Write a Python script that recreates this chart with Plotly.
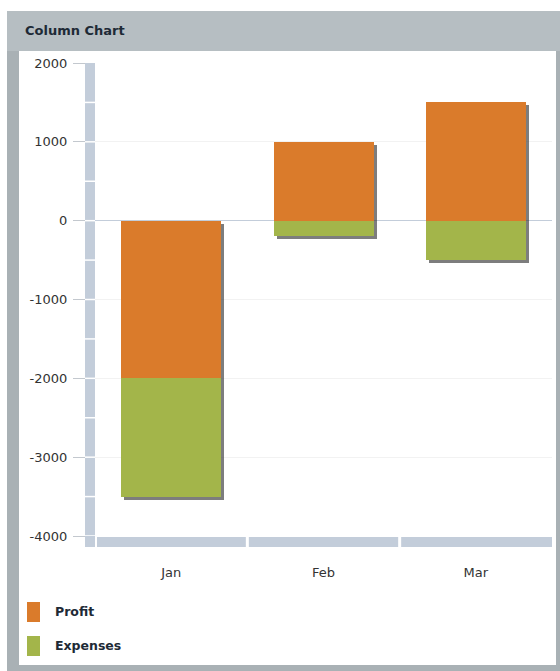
import plotly.graph_objects as go

# ---- data ----
months = ["Jan", "Feb", "Mar"]
series_names = ["Profit", "Expenses"]
profit = [-2000, 1000, 1500]
expenses = [-1500, -200, -500]
y_ticks = [2000, 1000, 0, -1000, -2000, -3000, -4000]

# ---- style ----
ORANGE = "#DA7B2B"
GREEN = "#A3B54A"
BAND = "#C3CDDA"
W, H = 560, 671
L, R, T, B = 95, 8, 63, 135
PW, PH = W - L - R, H - T - B
Y_MIN, Y_MAX = -4000, 2000
FONT = "DejaVu Sans"


def px_x(px):
    return (px - L) / PW


def px_y(py):
    return (H - B - py) / PH


cat_px = PW / len(months)
bar_w = 100 / cat_px
dx = 3 / cat_px
dy = 3 * (Y_MAX - Y_MIN) / PH

exp_base = [min(p, 0) if e < 0 else max(p, 0) for p, e in zip(profit, expenses)]
tops = [max(p, 0) + max(e, 0) for p, e in zip(profit, expenses)]
bottoms = [min(p, 0) + min(e, 0) for p, e in zip(profit, expenses)]

fig = go.Figure()
# shadow
fig.add_trace(go.Bar(
    x=months, y=[t - b for t, b in zip(tops, bottoms)],
    base=[b - dy for b in bottoms],
    width=bar_w, offset=-bar_w / 2 + dx,
    marker=dict(color="rgba(55,55,55,0.65)", line=dict(width=0)),
    showlegend=False, hoverinfo="skip"))
fig.add_trace(go.Bar(
    x=months, y=profit, base=[0] * len(months), name=series_names[0],
    width=bar_w, offset=-bar_w / 2,
    marker=dict(color=ORANGE, line=dict(width=0)), showlegend=False))
fig.add_trace(go.Bar(
    x=months, y=expenses, base=exp_base, name=series_names[1],
    width=bar_w, offset=-bar_w / 2,
    marker=dict(color=GREEN, line=dict(width=0)), showlegend=False))

shapes = []
# panel
shapes.append(dict(type="rect", xref="paper", yref="paper", layer="below",
                   x0=px_x(7), x1=px_x(560), y0=px_y(11), y1=px_y(671),
                   fillcolor="#A9B1B5", line=dict(width=0)))
shapes.append(dict(type="rect", xref="paper", yref="paper", layer="below",
                   x0=px_x(7), x1=px_x(560), y0=px_y(11), y1=px_y(51),
                   fillcolor="#B6BEC2", line=dict(width=0)))
shapes.append(dict(type="rect", xref="paper", yref="paper", layer="below",
                   x0=px_x(19), x1=px_x(556), y0=px_y(51), y1=px_y(665),
                   fillcolor="#FFFFFF", line=dict(width=0)))
# vertical axis band
shapes.append(dict(type="rect", xref="paper", yref="paper", layer="above",
                   x0=px_x(85), x1=px_x(95), y0=px_y(63), y1=px_y(547),
                   fillcolor=BAND, line=dict(width=0)))
for v in range(Y_MIN, Y_MAX, 500):
    shapes.append(dict(type="line", xref="paper", yref="y", layer="above",
                       x0=px_x(85), x1=px_x(95), y0=v, y1=v,
                       line=dict(color="#FFFFFF", width=1.5)))
# horizontal axis band
shapes.append(dict(type="rect", xref="paper", yref="paper", layer="above",
                   x0=px_x(97), x1=px_x(552), y0=px_y(537), y1=px_y(547),
                   fillcolor=BAND, line=dict(width=0)))
for i in range(1, len(months)):
    shapes.append(dict(type="line", xref="x", yref="paper", layer="above",
                       x0=i - 0.5, x1=i - 0.5, y0=px_y(536), y1=px_y(548),
                       line=dict(color="#FFFFFF", width=3)))

annotations = [dict(text="<b>Column Chart</b>", xref="paper", yref="paper",
                    x=px_x(23), y=px_y(30), xanchor="left", yanchor="middle",
                    showarrow=False, font=dict(family=FONT, size=13, color="#1E2A36"))]

# legend (custom)
legend_colors = [ORANGE, GREEN]
for i, (nm, col) in enumerate(zip(series_names, legend_colors)):
    top = 602 + i * 34
    shapes.append(dict(type="rect", xref="paper", yref="paper", layer="above",
                       x0=px_x(27), x1=px_x(40), y0=px_y(top), y1=px_y(top + 20),
                       fillcolor=col, line=dict(width=0)))
    annotations.append(dict(text=f"<b>{nm}</b>", xref="paper", yref="paper",
                            x=px_x(53), y=px_y(top + 9), xanchor="left", yanchor="middle",
                            showarrow=False, font=dict(family=FONT, size=12.5, color="#1E2A36")))

fig.update_layout(
    width=W, height=H,
    margin=dict(l=L, r=R, t=T, b=B, pad=0),
    paper_bgcolor="#FFFFFF",
    plot_bgcolor="rgba(0,0,0,0)",
    barmode="overlay",
    bargap=0,
    showlegend=False,
    font=dict(family=FONT, size=13, color="#333333"),
    shapes=shapes,
    annotations=annotations,
    xaxis=dict(range=[-0.5, len(months) - 0.5], showgrid=False, zeroline=False,
               showline=False, ticks="outside", ticklen=24,
               tickcolor="rgba(0,0,0,0)", tickfont=dict(size=13, color="#333333")),
    yaxis=dict(range=[Y_MIN, Y_MAX], tickvals=y_ticks, ticktext=[str(v) for v in y_ticks],
               showgrid=True, gridcolor="#F2F2F2", gridwidth=1,
               zeroline=True, zerolinecolor=BAND, zerolinewidth=1,
               showline=False, ticks="outside", ticklen=21, tickcolor="#C3C8CE",
               ticklabelstandoff=3,
               tickfont=dict(size=13, color="#333333")),
)

fig.write_html("out.html", config={"displayModeBar": False},
               post_script="document.body.style.margin='0';document.body.style.overflow='hidden';")
